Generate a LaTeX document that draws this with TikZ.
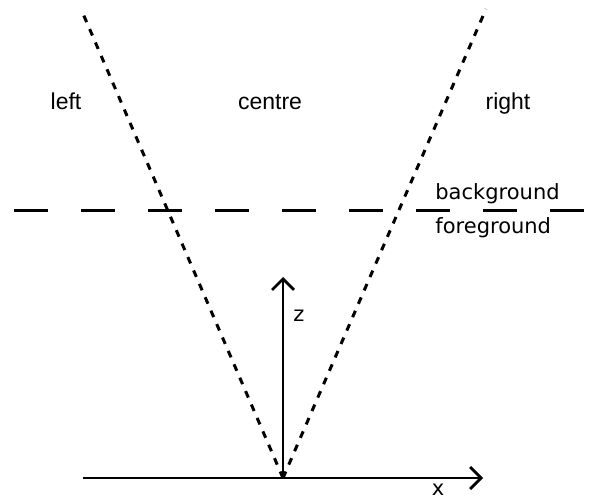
\documentclass[tikz,border=0pt]{standalone}
\usepackage{fontspec}
\setmainfont{DejaVu Sans}
\newfontfamily\regionfont{Liberation Sans}
\usetikzlibrary{arrows.meta}

\begin{document}
\begin{tikzpicture}[x=0.5pt, y=0.5pt, every node/.style={font=\fontsize{10.5}{12}\selectfont, inner sep=0pt},
  axis/.style={line width=1.4pt, -{Straight Barb[length=5.5pt,width=11pt,line width=1.4pt]}},
  sightline/.style={line width=1.5pt, dash pattern=on 3.5pt off 3.8pt},
  depthline/.style={line width=1.5pt, dash pattern=on 17pt off 16.5pt},
  region/.style={font=\regionfont\fontsize{11.5}{13}\selectfont}]
  \useasboundingbox (0,0) rectangle (590,499);
  % pixel grid, y = 499 - row
  \coordinate (origin) at (283,21);
  \coordinate (xstart) at (83,21);
  \coordinate (xend) at (483,21);
  \coordinate (zend) at (283,222);
  \coordinate (lefttop) at (81,490);
  \coordinate (righttop) at (486,490);
  \coordinate (depthleft) at (14,288);
  \coordinate (depthright) at (584,288);
  % field of view
  \draw[sightline] (origin) -- (lefttop);
  \draw[sightline] (origin) -- (righttop);
  \draw[depthline] (depthleft) -- (depthright);
  % axes
  \draw[axis] (xstart) -- (xend);
  \draw[axis] (origin) -- (zend);
  \node (xlabel) at (438,9) {x};
  \node (zlabel) at (299,183) {z};
  \node[region, anchor=base] (leftlabel) at (66,389) {left};
  \node[region, anchor=base] (centrelabel) at (270,389) {centre};
  \node[region, anchor=base] (rightlabel) at (508,389) {right};
  \node[anchor=base west] (backlabel) at (435,299) {background};
  \node[anchor=base west] (forelabel) at (435,265) {foreground};
\end{tikzpicture}
\end{document}
